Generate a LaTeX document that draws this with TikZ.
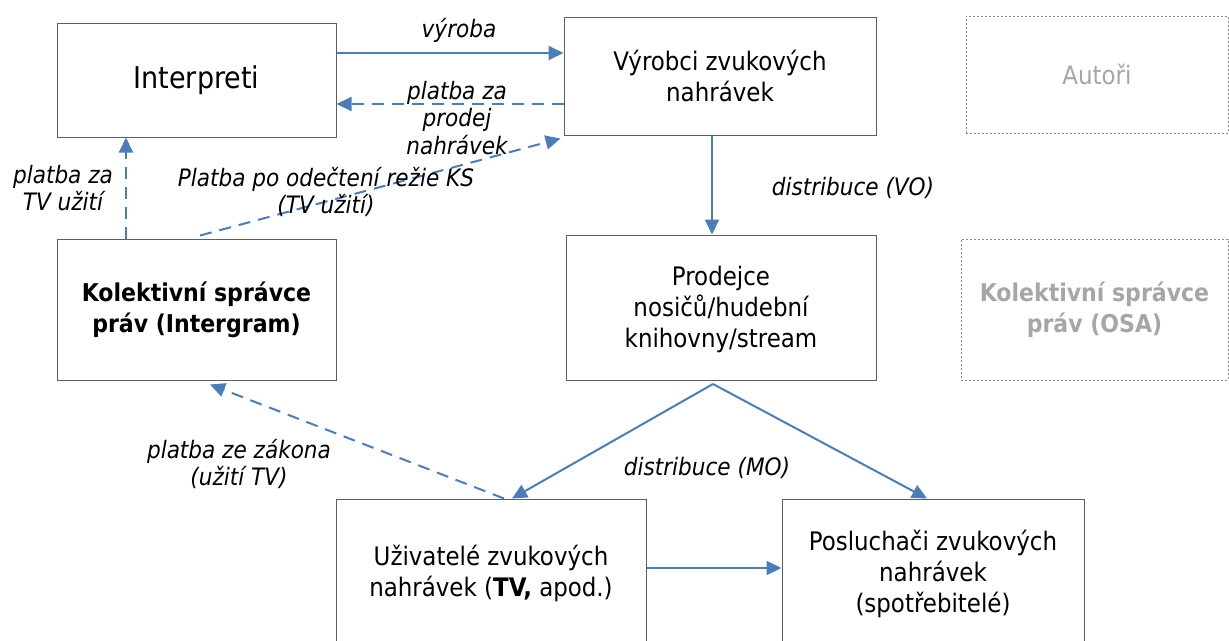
\documentclass[tikz,border=0pt]{standalone}
\usepackage{fontspec}
\setmainfont{DejaVu Sans Condensed}
\usetikzlibrary{arrows.meta}
\definecolor{arrblue}{RGB}{74,126,187}
\definecolor{boxgray}{RGB}{95,95,95}
\definecolor{ghost}{RGB}{166,166,166}
\definecolor{dotgray}{RGB}{140,140,140}
\tikzset{
  box/.style={draw=boxgray, line width=1pt, inner sep=0pt, align=center, font=\fontsize{25.5}{31}\selectfont},
  ghostbox/.style={draw=dotgray, line width=1pt, dash pattern=on 2pt off 2pt, inner sep=0pt, align=center, text=ghost, font=\fontsize{24.5}{31}\selectfont\bfseries},
  flow/.style={draw=arrblue, line width=2pt, -{Triangle[length=15pt,width=14pt]}},
  pay/.style={flow, dash pattern=on 12pt off 8pt},
  lbl/.style={inner sep=0pt, align=center, font=\fontsize{24}{27.5}\selectfont\itshape}
}
\begin{document}
\begin{tikzpicture}[x=1pt,y=-1pt]
\useasboundingbox (0,0) rectangle (1229,640);
% boxes
\node[box, minimum width=279pt, minimum height=114pt, font=\fontsize{30}{34}\selectfont] (interp) at (196.5,80) {Interpreti};
\node[box, minimum width=312pt, minimum height=118pt] (vyr) at (720,76) {Výrobci zvukových\\nahrávek};
\node[ghostbox, minimum width=262pt, minimum height=117pt, font=\fontsize{25.5}{31}\selectfont] (aut) at (1097,74.5) {Autoři};
\node[box, minimum width=279pt, minimum height=141pt, font=\fontsize{24.5}{31}\selectfont\bfseries] (ks) at (196.5,309.5) {Kolektivní správce\\práv (Intergram)};
\node[box, minimum width=310pt, minimum height=145pt, text depth=0pt] (prod) at (721,307.5) {Prodejce\\nosičů/hudební\\knihovny/stream\vphantom{j}\\[-30pt]};
\node[ghostbox, minimum width=267pt, minimum height=141pt] (osa) at (1094.5,309.5) {Kolektivní správce\\práv (OSA)};
\node[box, minimum width=310pt, minimum height=148pt] (uziv) at (491,573) {Uživatelé zvukových\\nahrávek (\textbf{TV,} apod.)};
\node[box, minimum width=302pt, minimum height=150pt] (posl) at (933,574) {Posluchači zvukových\\nahrávek\\(spotřebitelé)};
\coordinate (apex) at (713,384);
% connectors
\draw[flow] (interp.east |- 0,53) -- (vyr.west |- 0,53);
\draw[pay] (vyr.west |- 0,104) -- (interp.east |- 0,104);
\draw[pay] (ks.north -| 126,0) -- (interp.south -| 126,0);
\draw[pay] ([yshift=3pt]ks.north -| 200,0) -- ([shift={(-3pt,-3pt)}]vyr.south west);
\draw[flow] (vyr.south -| 712,0) -- (prod.north -| 712,0);
\draw[flow] (apex) -- (uziv.north -| 512,0);
\draw[flow] (apex) -- (posl.north -| 927,0);
\draw[pay] (uziv.north -| 504,0) -- ([yshift=-4pt]ks.south -| 210,0);
\draw[flow] (uziv.east |- 0,568) -- (posl.west |- 0,568);
% labels
\node[lbl] (l1) at (459,30) {výroba};
\node[lbl] (l2) at (457,118) {platba za\\prodej\\nahrávek};
\node[lbl] (l3) at (63,188) {platba za\\TV užití};
\node[lbl] (l4) at (326,192) {Platba po odečtení režie KS\\(TV užití)};
\node[lbl] (l5) at (853,188) {distribuce (VO)};
\node[lbl] (l6) at (707,468) {distribuce (MO)};
\node[lbl] (l7) at (239,464) {platba ze zákona\\(užití TV)};
\end{tikzpicture}
\end{document}
